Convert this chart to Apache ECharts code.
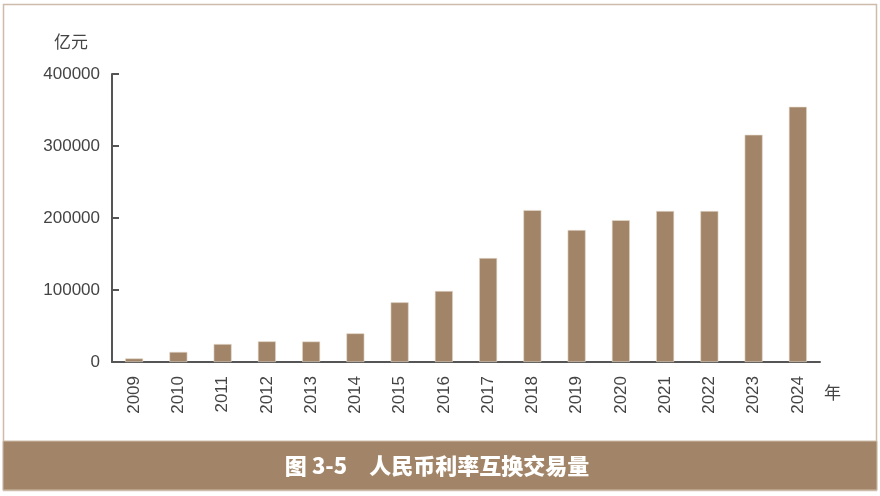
<!DOCTYPE html>
<html>
<head>
<meta charset="utf-8">
<script src="https://cdn.jsdelivr.net/npm/echarts@6/dist/echarts.min.js"></script>
<style>
  html, body { margin: 0; padding: 0; background: #fff; }
  #chart { width: 880px; height: 496px; }
</style>
</head>
<body>
<div id="chart"></div>
<script>
// 人民币利率互换交易量（亿元）
const years = ["2009", "2010", "2011", "2012", "2013", "2014", "2015", "2016",
  "2017", "2018", "2019", "2020", "2021", "2022", "2023", "2024"]
const volumes = [5000, 14000, 25000, 28700, 28500, 39800, 82900, 98600,
  144400, 211000, 183300, 197000, 209700, 209700, 315600, 354500]
const yTicks = [0, 100000, 200000, 300000, 400000]

const brown = "#a28568"
const axisColor = "#555"
const labelFont = "'Liberation Sans', Arial, sans-serif"

const chart = echarts.init(document.getElementById("chart"))

const option = {
  animation: false,
  backgroundColor: "#fff",
  grid: { left: 112, right: 60, top: 74, bottom: 134 },
  xAxis: {
    type: "category",
    data: years,
    name: "年",
    nameLocation: "end",
    nameGap: 4,
    nameTextStyle: {
      color: "#444", fontSize: 17, fontFamily: "'Noto Sans CJK SC', sans-serif",
      align: "left", verticalAlign: "top", padding: [22, 0, 0, 0]
    },
    axisLine: { lineStyle: { color: axisColor, width: 2 } },
    axisTick: { inside: true, length: 7, alignWithLabel: false, lineStyle: { color: "#222", width: 2 } },
    axisLabel: { rotate: 90, margin: 14, color: "#444", fontSize: 17, fontFamily: labelFont },
    splitLine: { show: false }
  },
  yAxis: {
    type: "value",
    min: yTicks[0],
    max: yTicks[yTicks.length - 1],
    interval: 100000,
    name: "亿元",
    nameLocation: "end",
    nameGap: 24,
    nameTextStyle: {
      color: "#444", fontSize: 17, fontFamily: "'Noto Sans CJK SC', sans-serif",
      align: "right", padding: [0, 24, 0, 0]
    },
    axisLine: { show: true, lineStyle: { color: axisColor, width: 2 } },
    axisTick: { show: true, inside: true, length: 7, lineStyle: { color: axisColor, width: 2 } },
    axisLabel: {
      margin: 12, color: "#444", fontSize: 17, fontFamily: labelFont,
      formatter: (v) => String(v)
    },
    splitLine: { show: false }
  },
  series: [
    {
      type: "bar",
      data: volumes,
      barWidth: 18,
      itemStyle: { color: brown, borderColor: "#e6dbcf", borderWidth: 0.6 }
    }
  ],
  graphic: [
    {
      type: "rect",
      shape: { x: 3.5, y: 4.5, width: 873, height: 486 },
      style: { fill: null, stroke: "#cdbcaa", lineWidth: 1.5 },
      z: 10
    },
    {
      type: "rect",
      shape: { x: 3, y: 441, width: 874, height: 49 },
      style: { fill: brown, stroke: "#cdbcaa", lineWidth: 1 },
      z: 11
    },
    {
      type: "text",
      x: 437,
      y: 466,
      style: {
        text: "图 3-5　人民币利率互换交易量",
        fill: "#fff",
        font: "900 22px 'Noto Sans CJK SC', sans-serif",
        textAlign: "center",
        textVerticalAlign: "middle"
      },
      z: 12
    }
  ]
}

chart.setOption(option)
window.addEventListener("resize", () => chart.resize())
</script>
</body>
</html>
